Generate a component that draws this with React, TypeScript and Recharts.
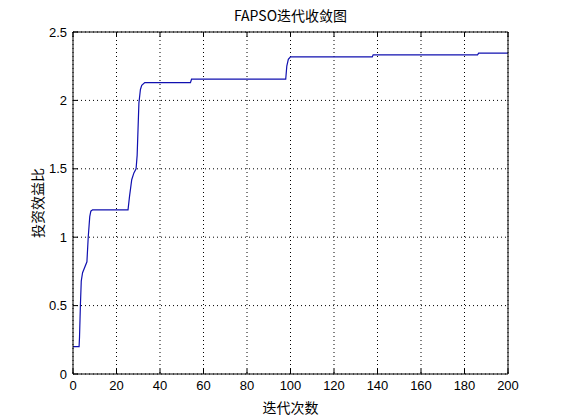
import React from 'react';
import { LineChart, Line, XAxis, YAxis, CartesianGrid } from 'recharts';

const iterations: number[] = [0, 2.8, 3.0, 3.4, 3.8, 4.4, 6.4, 7.0, 7.7, 8.2, 9, 25.3, 26, 27, 28, 29, 29.5, 30.3, 31, 31.6, 33, 54, 54.5, 97.8, 98.3, 99, 100, 137.6, 138, 186, 186.5, 200];
const ratio: number[] = [0.2, 0.2, 0.27, 0.5, 0.68, 0.74, 0.82, 1.0, 1.15, 1.19, 1.2, 1.2, 1.3, 1.42, 1.47, 1.5, 1.6, 1.98, 2.08, 2.11, 2.13, 2.13, 2.155, 2.155, 2.25, 2.3, 2.318, 2.318, 2.333, 2.333, 2.345, 2.345];
const xTicks: number[] = [0, 20, 40, 60, 80, 100, 120, 140, 160, 180, 200];
const yTicks: number[] = [0, 0.5, 1, 1.5, 2, 2.5];
const title = 'FAPSO迭代收敛图';
const xLabel = '迭代次数';
const yLabel = '投资效益比';

const data = iterations.map((x, i) => ({ x, y: ratio[i] }));

const numFont = '"Liberation Sans", Arial, sans-serif';
const cjk = '"Noto Sans CJK SC", "Liberation Sans", sans-serif';
const TL = 5;
const BM = 7;

const BottomTick = (p: any) => (
  <g>
    <line x1={p.x} x2={p.x} y1={p.y - BM} y2={p.y - BM - TL} stroke="#000" />
    <text x={p.x} y={p.y} dy="0.71em" textAnchor="middle" fontFamily={numFont} fontSize={13} fill="#000">{p.payload.value}</text>
  </g>
);
const TopTick = (p: any) => (
  <line x1={p.x} x2={p.x} y1={p.y} y2={p.y + TL} stroke="#000" />
);
const LeftTick = (p: any) => (
  <g>
    <line x1={p.x + 6} x2={p.x + 6 + TL} y1={p.y} y2={p.y} stroke="#000" />
    <text x={p.x} y={p.y} dy="0.355em" textAnchor="end" fontFamily={numFont} fontSize={13} fill="#000">{String(p.payload.value)}</text>
  </g>
);
const RightTick = (p: any) => (
  <line x1={p.x} x2={p.x - TL} y1={p.y} y2={p.y} stroke="#000" />
);

export default function App() {
  return (
    <div style={{ position: 'fixed', left: 0, top: 0, width: 561, height: 420, background: '#fff' }}>
      <LineChart width={561} height={420} data={data} margin={{ top: 0, right: 0, left: 0, bottom: 0 }}>
        <CartesianGrid xAxisId="b" yAxisId="l" stroke="#000" strokeDasharray="1 3" />
        <XAxis
          xAxisId="b"
          dataKey="x"
          type="number"
          domain={[0, 200]}
          ticks={xTicks}
          height={46}
          tickSize={0}
          tickMargin={BM}
          tickLine={false}
          tick={BottomTick}
          stroke="#000"
          interval={0}
        />
        <XAxis
          xAxisId="t"
          orientation="top"
          dataKey="x"
          type="number"
          domain={[0, 200]}
          ticks={xTicks}
          height={32}
          tickSize={0}
          tickMargin={0}
          tickLine={false}
          tick={TopTick}
          stroke="#000"
          interval={0}
        />
        <YAxis
          yAxisId="l"
          type="number"
          domain={[0, 2.5]}
          ticks={yTicks}
          width={73}
          tickSize={0}
          tickMargin={6}
          tickLine={false}
          tick={LeftTick}
          stroke="#000"
          interval={0}
        />
        <YAxis
          yAxisId="r"
          orientation="right"
          type="number"
          domain={[0, 2.5]}
          ticks={yTicks}
          width={53}
          tickSize={0}
          tickMargin={0}
          tickLine={false}
          tick={RightTick}
          stroke="#000"
          interval={0}
        />
        <Line
          xAxisId="b"
          yAxisId="l"
          type="linear"
          dataKey="y"
          stroke="#1010b0"
          strokeWidth={1.2}
          dot={false}
          isAnimationActive={false}
        />
      </LineChart>
      <div style={{ position: 'absolute', left: 73, width: 435, top: 6, textAlign: 'center', fontFamily: cjk, fontSize: 14, lineHeight: '18px', color: '#000' }}>{title}</div>
      <div style={{ position: 'absolute', left: 73, width: 435, top: 399, textAlign: 'center', fontFamily: cjk, fontSize: 14, lineHeight: '16px', color: '#000' }}>{xLabel}</div>
      <div style={{ position: 'absolute', left: 37 - 60, top: 203 - 9, width: 120, textAlign: 'center', fontFamily: cjk, fontSize: 14, lineHeight: '18px', color: '#000', transform: 'rotate(-90deg)' }}>{yLabel}</div>
    </div>
  );
}
